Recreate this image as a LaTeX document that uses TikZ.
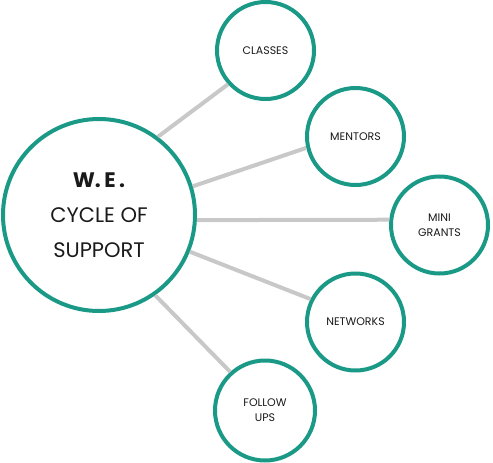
\documentclass[tikz,border=0pt]{standalone}
\usepackage{fontspec}
\setmainfont{Poppins}
\definecolor{teal}{HTML}{1A9A86}
\definecolor{linkgray}{HTML}{C8C8C8}
\definecolor{txt}{HTML}{1A1A1A}
\begin{document}
\begin{tikzpicture}[x=1pt,y=-1pt,
  hub/.style={circle,draw=teal,line width=4pt,fill=white,inner sep=0pt,minimum size=192pt,align=center,text=txt,font=\fontsize{21}{35}\selectfont},
  spoke/.style={circle,draw=teal,line width=4pt,fill=white,inner sep=0pt,minimum size=97pt,align=center,text=txt,font=\fontsize{11}{15}\selectfont},
  link/.style={draw=linkgray,line width=4pt}]
\useasboundingbox (0,0) rectangle (493,463);
\node[hub] (hub) at (99,215) {\raisebox{8pt}{\parbox{150pt}{\centering{\bfseries W.\,E\,.}\\CYCLE OF\\SUPPORT}}};
\node[spoke] (classes) at (265.5,50.5) {CLASSES};
\node[spoke] (mentors) at (355.5,136.5) {MENTORS};
\node[spoke] (grants) at (439.5,225) {\raisebox{-5pt}{\parbox{60pt}{\centering MINI\\GRANTS}}};
\node[spoke] (networks) at (355.5,322) {NETWORKS};
\node[spoke,minimum size=100pt] (follow) at (265,410.5) {FOLLOW\\UPS};
\draw[link] (hub.53) -- (classes.222);
\draw[link] (hub.17) -- (mentors.193);
\draw[link] (hub.-3) -- (grants.174);
\draw[link] (hub.-22) -- (networks.153);
\draw[link] (hub.-55) -- (follow.132);
\end{tikzpicture}
\end{document}
